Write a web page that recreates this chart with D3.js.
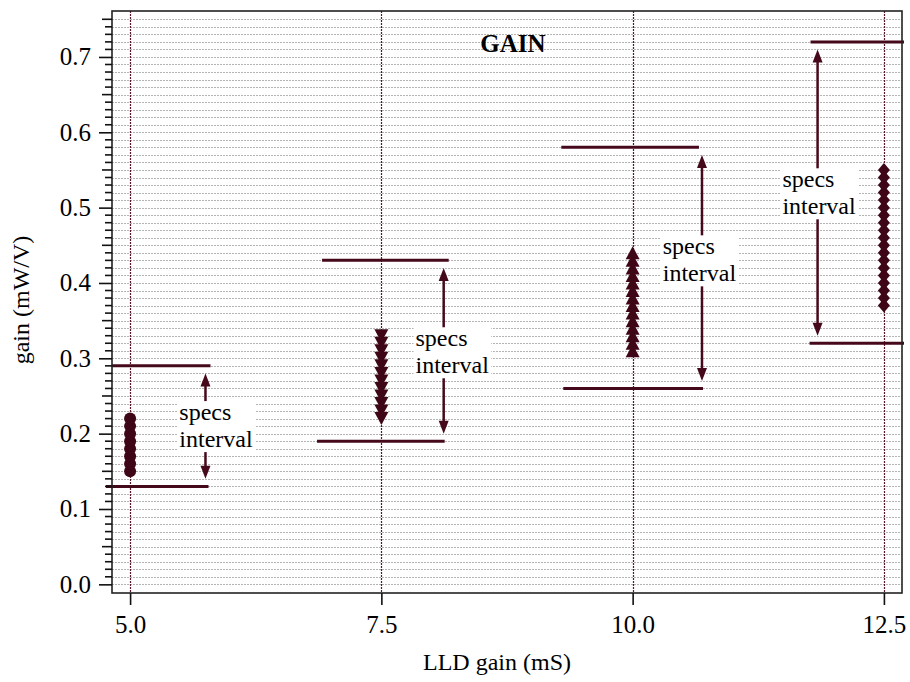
<!DOCTYPE html>
<html>
<head>
<meta charset="utf-8">
<script src="https://cdn.jsdelivr.net/npm/d3@7"></script>
<style>
  html, body { margin: 0; padding: 0; background: #fff; }
  svg { display: block; font-family: "Liberation Serif", "Times New Roman", serif; }
</style>
</head>
<body>
<svg id="chart" width="910" height="682"></svg>
<script>
// LLD gain settings (mS)
const groupX = [5.0, 7.5, 10.0, 12.5];

// measured gain (mW/V) per LLD gain setting
const gain5 = [0.15, 0.16, 0.17, 0.18, 0.19, 0.20, 0.21, 0.22];
const gain75 = [0.22, 0.23, 0.24, 0.25, 0.26, 0.27, 0.28, 0.29, 0.30, 0.31, 0.32, 0.33];
const gain10 = [0.31, 0.32, 0.33, 0.34, 0.35, 0.36, 0.37, 0.38, 0.39, 0.40, 0.41, 0.42, 0.43, 0.44];
const gain125 = [0.37, 0.38, 0.39, 0.40, 0.41, 0.42, 0.43, 0.44, 0.45, 0.46, 0.47, 0.48, 0.49, 0.50, 0.51, 0.52, 0.53, 0.54, 0.55];

// specification limits
const specUpper = [0.29, 0.43, 0.58, 0.72];
const specLower = [0.13, 0.19, 0.26, 0.32];
const upperSpan = [[4.82, 5.80], [6.91, 8.17], [9.29, 10.66], [11.77, 12.70]];
const lowerSpan = [[4.76, 5.78], [6.86, 8.13], [9.31, 10.70], [11.76, 12.70]];

// "specs interval" arrows and their labels
const arrowX = [5.75, 8.12, 10.69, 11.84];
const arrowTop = [0.28, 0.42, 0.57, 0.71];
const arrowBottom = [0.14, 0.20, 0.27, 0.33];
const labelX = [5.49, 7.84, 10.30, 11.49];
const labelY = [0.218, 0.316, 0.438, 0.527];
const labelLines = ["specs", "interval"];

// axis ticks
const xTicks = [5.0, 7.5, 10.0, 12.5];
const yTicks = [0.0, 0.1, 0.2, 0.3, 0.4, 0.5, 0.6, 0.7];

const chartTitle = "GAIN";
const xTitle = "LLD gain (mS)";
const yTitle = "gain (mW/V)";

const svg = d3.select("#chart");
const margin = { left: 112, top: 11, right: 8, bottom: 89 };
const W = 910 - margin.left - margin.right;
const H = 682 - margin.top - margin.bottom;

const x = d3.scaleLinear().domain([4.82, 12.68]).range([0, W]);
const y = d3.scaleLinear().domain([-0.0115, 0.761]).range([H, 0]);

const markColor = "#3e0616";
const lineColor = "#46091b";

const g = svg.append("g").attr("transform", `translate(${margin.left},${margin.top})`);

// horizontal dotted grid every 0.01
const gridVals = d3.range(0, 76).map(i => i / 100);
g.append("g").selectAll("line").data(gridVals).join("line")
  .attr("x1", 0).attr("x2", W)
  .attr("y1", d => Math.round(y(d)) + 0.5).attr("y2", d => Math.round(y(d)) + 0.5)
  .attr("stroke", "#b4b4b4").attr("stroke-width", 1).attr("stroke-dasharray", "2,1");

// vertical dotted lines at each setting
g.append("g").selectAll("line").data(groupX).join("line")
  .attr("x1", d => Math.round(x(d)) + 0.5).attr("x2", d => Math.round(x(d)) + 0.5)
  .attr("y1", 0).attr("y2", H)
  .attr("stroke", "#57182a").attr("stroke-width", 1.2).attr("stroke-dasharray", "2,1");

// spec limit lines
const specG = g.append("g");
specG.selectAll("line.up").data(specUpper).join("line").attr("class", "up")
  .attr("x1", (d, i) => x(upperSpan[i][0])).attr("x2", (d, i) => x(upperSpan[i][1]))
  .attr("y1", d => y(d)).attr("y2", d => y(d))
  .attr("stroke", lineColor).attr("stroke-width", 3);
specG.selectAll("line.lo").data(specLower).join("line").attr("class", "lo")
  .attr("x1", (d, i) => x(lowerSpan[i][0])).attr("x2", (d, i) => x(lowerSpan[i][1]))
  .attr("y1", d => y(d)).attr("y2", d => y(d))
  .attr("stroke", lineColor).attr("stroke-width", 3);

// double-headed arrows
const headL = 13, headW = 5;
const arrG = g.append("g");
arrowX.forEach((ax, i) => {
  const px = x(ax), yt = y(arrowTop[i]), yb = y(arrowBottom[i]);
  arrG.append("line")
    .attr("x1", px).attr("x2", px).attr("y1", yt + headL - 2).attr("y2", yb - headL + 2)
    .attr("stroke", lineColor).attr("stroke-width", 2.5);
  arrG.append("path")
    .attr("d", `M${px},${yt} L${px + headW},${yt + headL} L${px - headW},${yt + headL} Z`)
    .attr("fill", lineColor);
  arrG.append("path")
    .attr("d", `M${px},${yb} L${px + headW},${yb - headL} L${px - headW},${yb - headL} Z`)
    .attr("fill", lineColor);
});

// labels with white backing boxes
const labG = g.append("g");
labelX.forEach((lx, i) => {
  const grp = labG.append("g");
  const rect = grp.append("rect").attr("fill", "#fff");
  const t = grp.append("text")
    .attr("x", x(lx)).attr("y", y(labelY[i]))
    .attr("font-size", 24).attr("fill", "#000");
  labelLines.forEach((s, k) => {
    t.append("tspan").attr("x", x(lx)).attr("dy", k === 0 ? 0 : 27).text(s);
  });
  const bb = t.node().getBBox();
  rect.attr("x", bb.x - 2).attr("y", bb.y + 2).attr("width", bb.width + 4).attr("height", bb.height - 2);
});

// measured points
const ptsG = g.append("g").attr("fill", markColor);
ptsG.selectAll("circle").data(gain5).join("circle")
  .attr("cx", x(groupX[0])).attr("cy", d => y(d)).attr("r", 6);
const triDown = "M-7,-6.5 L7,-6.5 L0,6.5 Z";
const triUp = "M0,-6.5 L7,6.5 L-7,6.5 Z";
const diamond = "M0,-7 L6,0 L0,7 L-6,0 Z";
ptsG.selectAll("path.dn").data(gain75).join("path").attr("class", "dn")
  .attr("transform", d => `translate(${x(groupX[1])},${y(d)})`).attr("d", triDown);
ptsG.selectAll("path.up").data(gain10).join("path").attr("class", "up")
  .attr("transform", d => `translate(${x(groupX[2])},${y(d)})`).attr("d", triUp);
ptsG.selectAll("path.dm").data(gain125).join("path").attr("class", "dm")
  .attr("transform", d => `translate(${x(groupX[3])},${y(d)})`).attr("d", diamond);

// frame
g.append("rect").attr("x", 0).attr("y", 0).attr("width", W).attr("height", H)
  .attr("fill", "none").attr("stroke", "#222").attr("stroke-width", 1.6);

// y axis: labelled majors, plus minor ticks every 0.01
const yAxis = d3.axisLeft(y).tickValues(yTicks).tickFormat(d3.format(".1f"))
  .tickSize(13).tickPadding(8);
const yAx = g.append("g").call(yAxis);
yAx.select(".domain").remove();
yAx.selectAll("line").attr("stroke", "#111").attr("stroke-width", 1.6);
yAx.selectAll("text").attr("font-size", 25).attr("font-family", "Liberation Serif").attr("fill", "#000");

const minorVals = d3.range(0, 76).map(i => i / 100).filter(v => Math.round(v * 100) % 10 !== 0);
g.append("g").selectAll("line").data(minorVals).join("line")
  .attr("x1", d => Math.round(d * 100) % 5 === 0 ? -10 : -7).attr("x2", 0)
  .attr("y1", d => y(d)).attr("y2", d => y(d))
  .attr("stroke", "#111").attr("stroke-width", 1.6);

// x axis
const xAxis = d3.axisBottom(x).tickValues(xTicks).tickFormat(d3.format(".1f"))
  .tickSize(12).tickPadding(10);
const xAx = g.append("g").attr("transform", `translate(0,${H})`).call(xAxis);
xAx.select(".domain").remove();
xAx.selectAll("line").attr("stroke", "#111").attr("stroke-width", 1.6);
xAx.selectAll("text").attr("font-size", 25).attr("font-family", "Liberation Serif").attr("fill", "#000");

// titles
g.append("text").attr("x", 401).attr("y", 41).attr("text-anchor", "middle")
  .attr("font-size", 25).attr("font-weight", "bold").text(chartTitle);
svg.append("text").attr("x", 497).attr("y", 670).attr("text-anchor", "middle")
  .attr("font-size", 24).text(xTitle);
svg.append("text").attr("transform", "translate(29,300) rotate(-90)").attr("text-anchor", "middle")
  .attr("font-size", 24).text(yTitle);
</script>
</body>
</html>
